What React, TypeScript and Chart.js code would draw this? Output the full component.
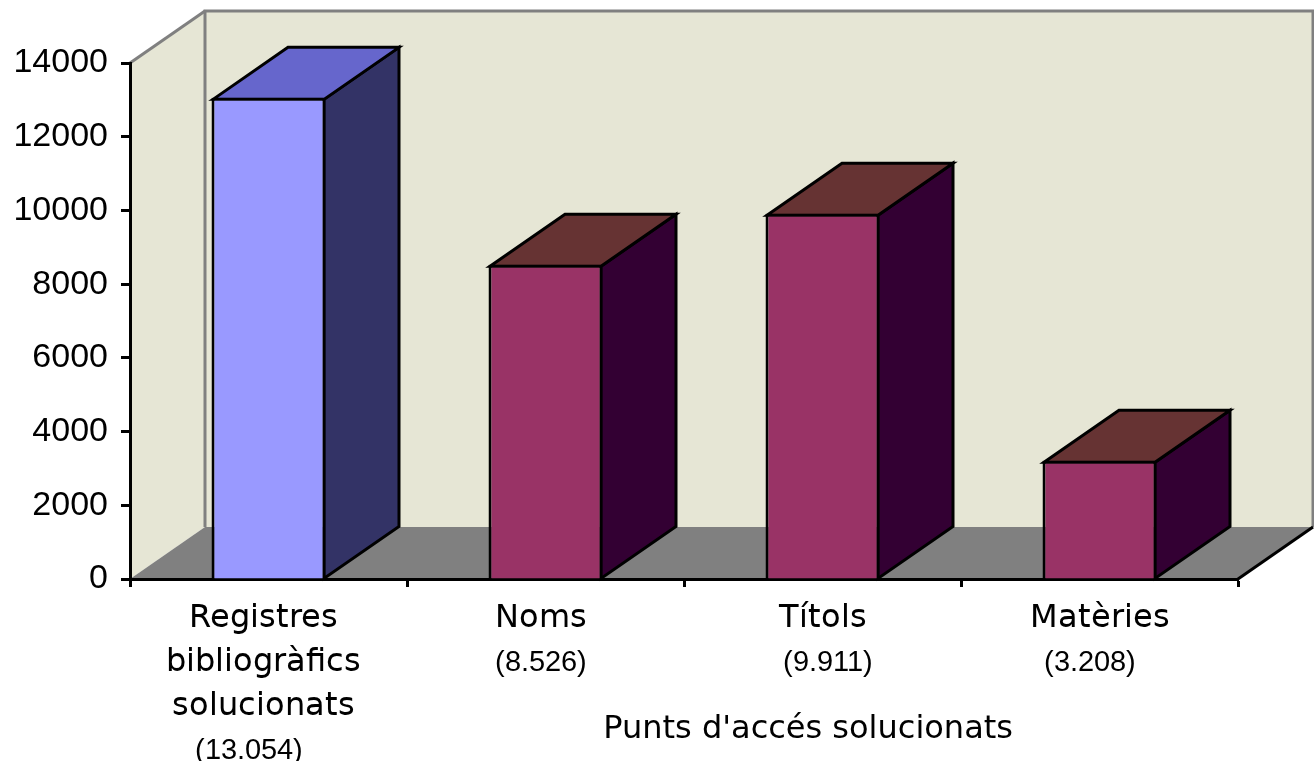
import React, { useEffect, useRef } from "react";
import { Chart, registerables } from "chart.js";

Chart.register(...registerables);

const categories: string[][] = [
  ["Registres ", "bibliogràfics ", "solucionats ", "(13.054)    "],
  ["Noms ", "(8.526) "],
  ["Títols", " (9.911)"],
  ["Matèries", "(3.208)  "],
];
const seriesValues = [13054, 8526, 9911, 3208];
const frontColors = ["#9999FF", "#993366", "#993366", "#993366"];
const topColors = ["#6666CC", "#663333", "#663333", "#663333"];
const sideColors = ["#333366", "#330033", "#330033", "#330033"];
const axisTitle = "Punts d'accés solucionats";
const yMax = 14000;
const yStep = 2000;

const DX = 75;
const DY = -52;
const FONT = "'DejaVu Sans'";
const MIX = "LabelMix";

const FONT_CSS = `
@font-face { font-family: ${MIX}; src: local('DejaVu Sans'); }
@font-face { font-family: ${MIX}; src: local('Liberation Sans'); size-adjust: 92%;
  unicode-range: U+0028, U+0029, U+002E, U+0030-0039; }
`;

const poly = (ctx: CanvasRenderingContext2D, pts: number[][]) => {
  ctx.beginPath();
  pts.forEach(([x, y], i) => (i ? ctx.lineTo(x, y) : ctx.moveTo(x, y)));
  ctx.closePath();
};

const walls = {
  id: "walls",
  beforeDraw(chart: any) {
    const { ctx, chartArea: a } = chart;
    const { left: l, right: r, top: t, bottom: b } = a;
    ctx.save();
    ctx.fillStyle = "#fff";
    ctx.fillRect(0, 0, chart.width, chart.height);
    ctx.fillStyle = "#E6E6D5";
    poly(ctx, [[l, t], [l + DX, t + DY], [l + DX, b + DY], [l, b]]);
    ctx.fill();
    ctx.fillRect(l + DX, t + DY, r - l, b - t);
    ctx.fillStyle = "#808080";
    poly(ctx, [[l, b], [l + DX, b + DY], [r + DX, b + DY], [r, b]]);
    ctx.fill();
    ctx.strokeStyle = "#808080";
    ctx.lineWidth = 3;
    ctx.beginPath();
    ctx.moveTo(l + DX, b + DY);
    ctx.lineTo(l + DX, t + DY);
    ctx.lineTo(r + DX, t + DY);
    ctx.lineTo(r + DX, b + DY);
    ctx.stroke();
    ctx.beginPath();
    ctx.moveTo(l, t);
    ctx.lineTo(l + DX, t + DY);
    ctx.stroke();
    ctx.strokeStyle = "#000";
    ctx.beginPath();
    ctx.moveTo(r, b);
    ctx.lineTo(r + DX, b + DY);
    ctx.stroke();
    ctx.restore();
  },
};

const barFaces = {
  id: "barFaces",
  beforeDatasetsDraw(chart: any) {
    const { ctx } = chart;
    const meta = chart.getDatasetMeta(0);
    ctx.save();
    ctx.strokeStyle = "#000";
    ctx.lineWidth = 3;
    ctx.lineJoin = "miter";
    meta.data.forEach((el: any, i: number) => {
      const { x, y, width, base } = el.getProps(["x", "y", "width", "base"], true);
      const l = x - width / 2 + 1.5;
      const r = x + width / 2 - 1.5;
      const t = y + 1.5;
      poly(ctx, [[r, t], [r + DX, t + DY], [r + DX, base + DY], [r, base]]);
      ctx.fillStyle = sideColors[i];
      ctx.fill();
      ctx.stroke();
      poly(ctx, [[l, t], [l + DX, t + DY], [r + DX, t + DY], [r, t]]);
      ctx.fillStyle = topColors[i];
      ctx.fill();
      ctx.stroke();
    });
    ctx.restore();
  },
  afterDraw(chart: any) {
    const { ctx, chartArea: a } = chart;
    ctx.save();
    ctx.fillStyle = "#000";
    ctx.font = `32px ${FONT}`;
    ctx.textAlign = "center";
    ctx.textBaseline = "middle";
    ctx.fillText(axisTitle, a.left + (a.right - a.left) * 0.612, 730);
    ctx.restore();
  },
};

export default function App() {
  const ref = useRef<HTMLCanvasElement>(null);
  useEffect(() => {
    const style = document.createElement("style");
    style.textContent = FONT_CSS;
    document.head.appendChild(style);
    const chart = new Chart(ref.current!, {
      type: "bar",
      data: {
        labels: categories as any,
        datasets: [
          {
            data: seriesValues,
            backgroundColor: frontColors,
            borderColor: "#000",
            borderWidth: 3,
            barPercentage: 114 / 277,
            categoryPercentage: 1,
          },
        ],
      },
      plugins: [walls, barFaces],
      options: {
        animation: false,
        responsive: false,
        layout: { padding: { top: 63, right: 76, left: 0, bottom: 0 } },
        plugins: { legend: { display: false }, tooltip: { enabled: false } },
        scales: {
          x: {
            z: 1,
            afterFit: (s: any) => {
              s.height = 182;
            },
            grid: {
              offset: true,
              drawOnChartArea: false,
              drawTicks: true,
              tickLength: 8,
              tickColor: "#000",
              tickWidth: 3,
            },
            border: { color: "#000", width: 3 },
            ticks: {
              autoSkip: false,
              maxRotation: 0,
              minRotation: 0,
              padding: 10,
              color: "#000",
              font: { family: `${MIX}, ${FONT}`, size: 32, lineHeight: 44 / 32 },
            },
          },
          y: {
            z: 1,
            min: 0,
            max: yMax,
            afterFit: (s: any) => {
              s.width = 130;
            },
            grid: {
              drawOnChartArea: false,
              drawTicks: true,
              tickLength: 9,
              tickColor: "#000",
              tickWidth: 3,
            },
            border: { color: "#000", width: 3 },
            ticks: {
              stepSize: yStep,
              padding: 13,
              color: "#000",
              callback: (v: any) => String(v),
              font: { family: "'Liberation Sans'", size: 34 },
            },
          },
        },
      },
    } as any);
    let alive = true;
    document.fonts.load(`32px ${MIX}`, "a1").then(() => {
      if (alive) chart.update();
    });
    return () => {
      alive = false;
      chart.destroy();
      style.remove();
    };
  }, []);
  return (
    <div style={{ position: "fixed", left: 0, top: 0, width: 1314, height: 761, background: "#fff" }}>
      <canvas ref={ref} width={1314} height={761} style={{ display: "block" }} />
    </div>
  );
}
